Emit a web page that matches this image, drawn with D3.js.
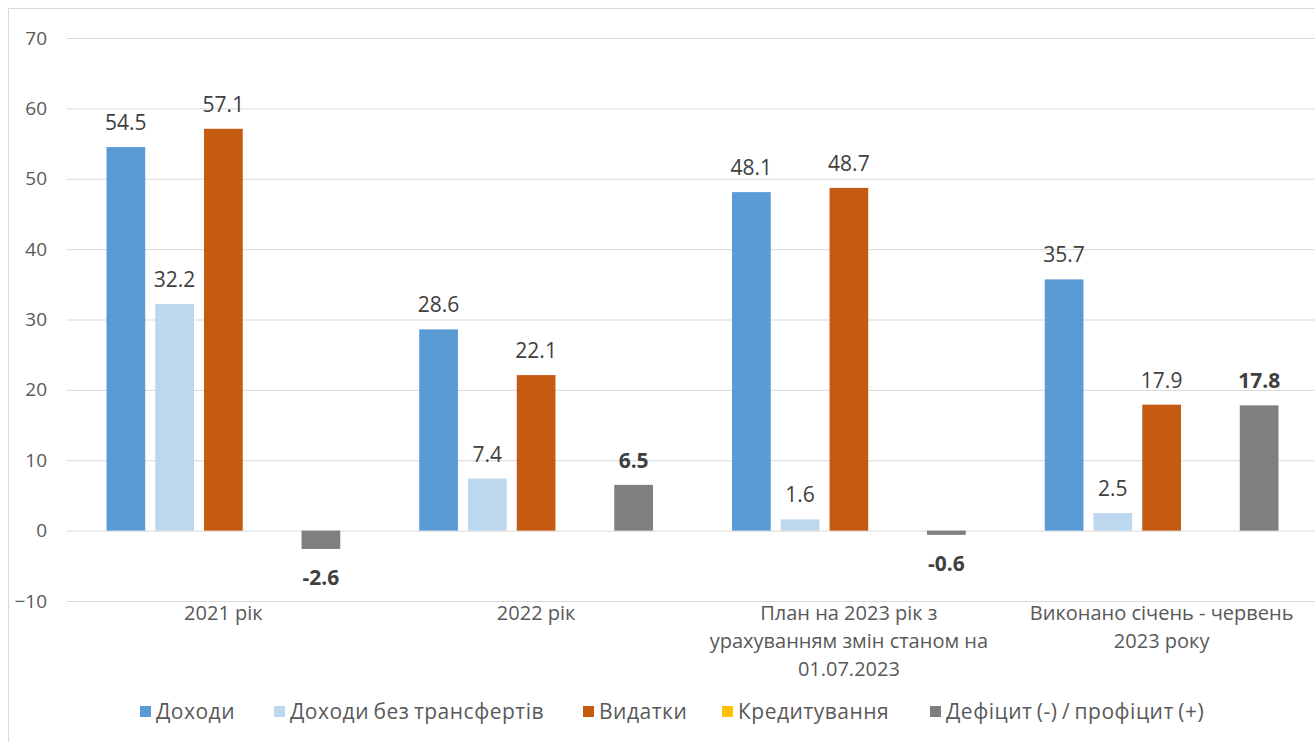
<!doctype html>
<html lang="uk">
<head>
<meta charset="utf-8">
<title>Бюджет</title>
<style>
  body { margin: 0; background: #fff; }
  text { font-family: "Open Sans", sans-serif; }
</style>
</head>
<body>
<script src="https://cdn.jsdelivr.net/npm/d3@7"></script>
<script>
var categories = [
    ["2021 рік"],
    ["2022 рік"],
    ["План на 2023 рік з", "урахуванням змін станом на", "01.07.2023"],
    ["Виконано січень - червень", "2023 року"]
];
var seriesNames = ["Доходи", "Доходи без трансфертів", "Видатки", "Кредитування", "Дефіцит (-) / профіцит (+)"];
var seriesColors = ["#5b9bd5", "#bdd7ee", "#c55a11", "#ffc000", "#7f7f7f"];
var dohody = [54.5, 28.6, 48.1, 35.7];
var dohodyBezTransf = [32.2, 7.4, 1.6, 2.5];
var vydatky = [57.1, 22.1, 48.7, 17.9];
var kredytuvannia = [null, null, null, null];
var deficit = [-2.6, 6.5, -0.6, 17.8];
var yTicks = [-10, 0, 10, 20, 30, 40, 50, 60, 70];

var values = [dohody, dohodyBezTransf, vydatky, kredytuvannia, deficit];

var W = 1315, H = 742;
var margin = {top: 38, left: 67, right: -3, bottom: 141};

var svg = d3.select("body").append("svg")
    .attr("width", W)
    .attr("height", H);

// chart frame
svg.append("path")
    .attr("d", "M8.5," + H + "V8.5H" + W)
    .attr("fill", "none")
    .attr("stroke", "#d9d9d9");

var x0 = d3.scaleBand()
    .domain(d3.range(categories.length))
    .range([margin.left, W - margin.right]);

var x1 = d3.scaleBand()
    .domain(d3.range(seriesNames.length))
    .range([0, x0.bandwidth()])
    .paddingInner(0.206)
    .paddingOuter(0.81);

var y = d3.scaleLinear()
    .domain([-10, 70])
    .range([H - margin.bottom, margin.top]);

// gridlines + y labels
var yAxis = svg.append("g")
    .attr("transform", "translate(" + margin.left + ",0)")
    .call(d3.axisLeft(y).tickValues(yTicks).tickSize(-(W - margin.left)).tickPadding(20));
yAxis.select(".domain").remove();
yAxis.selectAll(".tick line").attr("stroke", "#d9d9d9");
yAxis.selectAll(".tick text")
    .attr("fill", "#595959")
    .style("font-size", "19px")
    .style("font-family", "Open Sans");

var groups = svg.selectAll(".grp")
    .data(categories)
    .enter().append("g")
    .attr("class", "grp")
    .attr("transform", function(d, i) { return "translate(" + x0(i) + ",0)"; });

var bars = [];
values.forEach(function(vals, s) {
    vals.forEach(function(v, c) {
        if (v !== null) bars.push({s: s, c: c, v: v});
    });
});

svg.selectAll("rect.bar")
    .data(bars)
    .enter().append("rect")
    .attr("class", "bar")
    .attr("x", function(d) { return x0(d.c) + x1(d.s); })
    .attr("width", x1.bandwidth())
    .attr("y", function(d) { return y(Math.max(0, d.v)); })
    .attr("height", function(d) { return Math.abs(y(d.v) - y(0)); })
    .attr("fill", function(d) { return seriesColors[d.s]; });

svg.selectAll("text.val")
    .data(bars)
    .enter().append("text")
    .attr("class", "val")
    .attr("x", function(d) { return x0(d.c) + x1(d.s) + x1.bandwidth() / 2; })
    .attr("y", function(d) { return d.v >= 0 ? y(d.v) - 17 : y(d.v) + 36; })
    .attr("text-anchor", "middle")
    .attr("fill", "#404040")
    .style("font-size", "21px")
    .style("font-weight", function(d) { return d.s === 4 ? "bold" : "normal"; })
    .text(function(d) { return d.v.toFixed(1); });

// category labels
groups.each(function(lines, i) {
    var t = d3.select(this).append("text")
        .attr("text-anchor", "middle")
        .attr("fill", "#595959")
        .style("font-size", "20px");
    lines.forEach(function(l, k) {
        t.append("tspan")
            .attr("x", x0.bandwidth() / 2)
            .attr("y", y(-10) + 19 + k * 28)
            .text(l);
    });
});

// legend
var legendX = [140, 274, 583, 722, 930];
var legend = svg.append("g").attr("transform", "translate(0,712)");
seriesNames.forEach(function(name, i) {
    var g = legend.append("g").attr("transform", "translate(" + legendX[i] + ",0)");
    g.append("rect")
        .attr("x", 0).attr("y", -6)
        .attr("width", 11).attr("height", 11)
        .attr("fill", seriesColors[i]);
    g.append("text")
        .attr("x", 16)
        .attr("dy", "0.35em")
        .attr("fill", "#595959")
        .style("font-size", "21px")
        .style("letter-spacing", "0.5px")
        .style("word-spacing", "-1.5px")
        .text(name);
});
</script>
</body>
</html>
